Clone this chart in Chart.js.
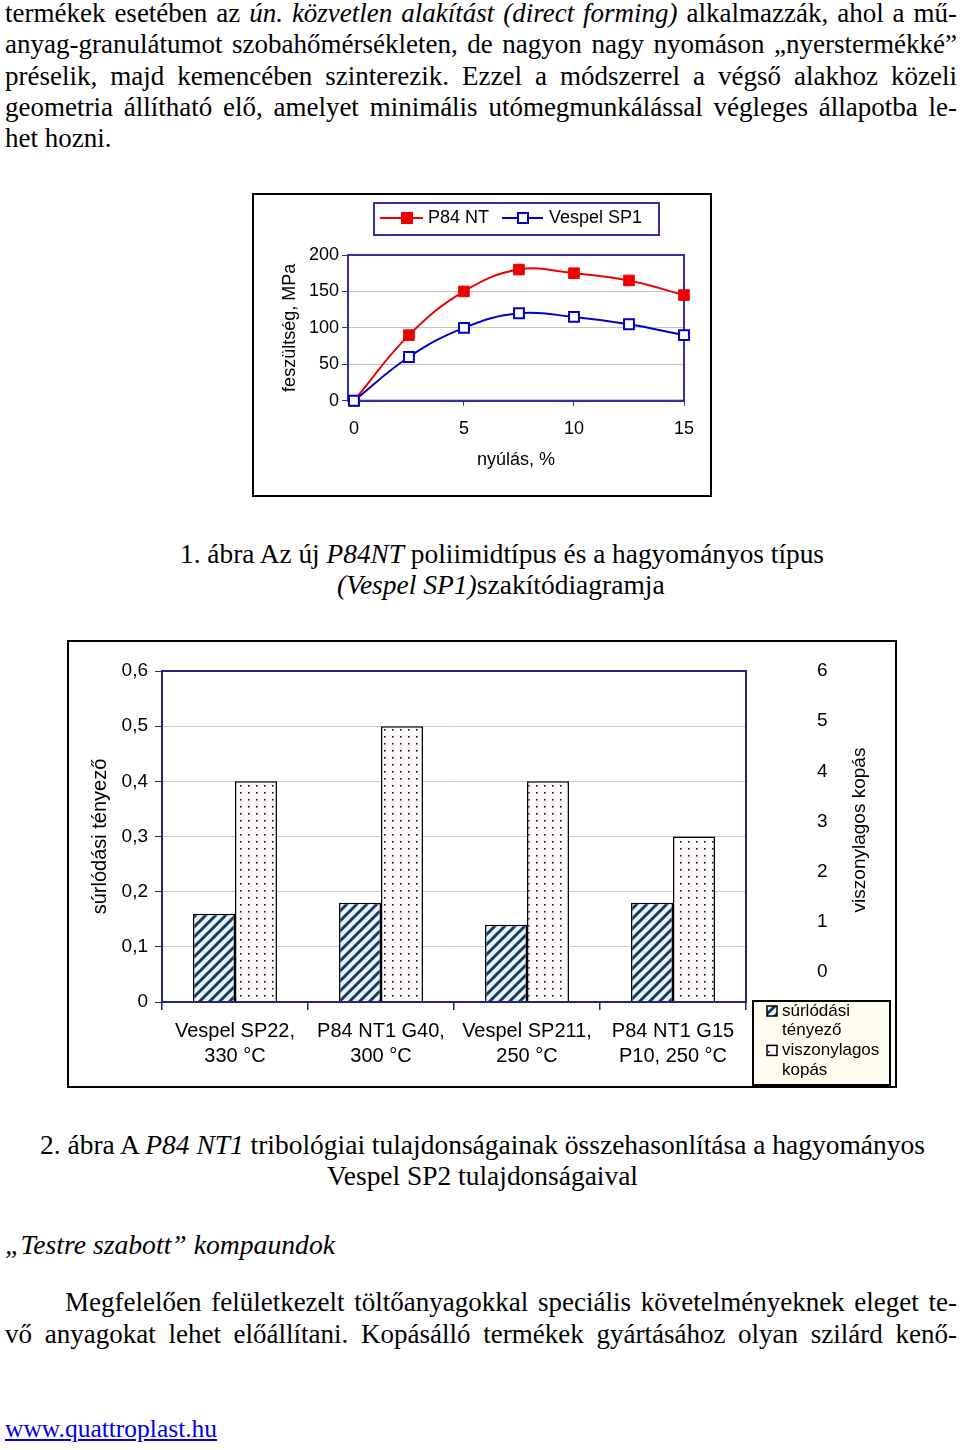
<!DOCTYPE html>
<html lang="hu">
<head>
<meta charset="utf-8">
<script src="https://cdn.jsdelivr.net/npm/chart.js@4.4.1/dist/chart.umd.min.js"></script>
<style>
  body { margin: 0; width: 960px; height: 1450px; background: #fff; position: relative; overflow: hidden;
         font-family: 'Liberation Serif', 'Times New Roman', serif; color: #000; }
  .ln { position: absolute; font-size: 27px; line-height: 31px; white-space: nowrap; transform-origin: left center; }
  .frame { position: absolute; box-sizing: border-box; border: 2px solid #000; background: #fff; }
  .frame canvas { display: block; }
  a.ln { color: #0000ee; text-decoration: underline; font-size: 25px; }
</style>
</head>
<body>

<div class="ln" data-mode="just" data-left="5" data-w="952" data-y="13">termékek esetében az <i>ún. közvetlen alakítást (direct forming)</i> alkalmazzák, ahol a mű-</div>
<div class="ln" data-mode="just" data-left="5" data-w="952" data-y="44">anyag-granulátumot szobahőmérsékleten, de nagyon nagy nyomáson „nyerstermékké”</div>
<div class="ln" data-mode="just" data-left="5" data-w="952" data-y="76">préselik, majd kemencében szinterezik. Ezzel a módszerrel a végső alakhoz közeli</div>
<div class="ln" data-mode="just" data-left="5" data-w="952" data-y="107">geometria állítható elő, amelyet minimális utómegmunkálással végleges állapotba le-</div>
<div class="ln" data-mode="plain" data-left="5" data-y="138">het hozni.</div>

<div class="frame" style="left:252px; top:193px; width:460px; height:304px;">
  <canvas id="tensile" width="456" height="300"></canvas>
</div>

<div class="ln" data-mode="center" data-c="502" data-w="644" data-y="554">1. ábra Az új <i>P84NT</i> poliimidtípus és a hagyományos típus</div>
<div class="ln" data-mode="center" data-c="501" data-w="328" data-y="585"><i>(Vespel SP1)</i>szakítódiagramja</div>

<div class="frame" style="left:67px; top:640px; width:830px; height:448px;">
  <canvas id="tribo" width="826" height="444"></canvas>
</div>

<div class="ln" data-mode="center" data-c="482" data-w="885" data-y="1145">2. ábra A <i>P84 NT1</i> tribológiai tulajdonságainak összehasonlítása a hagyományos</div>
<div class="ln" data-mode="center" data-c="482" data-w="311" data-y="1176">Vespel SP2 tulajdonságaival</div>

<div class="ln" data-mode="fit" data-left="5" data-w="330" data-y="1245"><i>„Testre szabott” kompaundok</i></div>
<div class="ln" data-mode="just" data-left="65" data-w="892" data-y="1302">Megfelelően felületkezelt töltőanyagokkal speciális követelményeknek eleget te-</div>
<div class="ln" data-mode="just" data-left="5" data-w="952" data-y="1334">vő anyagokat lehet előállítani. Kopásálló termékek gyártásához olyan szilárd kenő-</div>

<a class="ln" data-mode="fit" data-left="5" data-w="212" data-y="1428" href="#">www.quattroplast.hu</a>

<script>
// ---- 1. ábra: szakítódiagram ----
const strainPct = [0, 2.5, 5, 7.5, 10, 12.5, 15];
const p84nt = [0, 90, 150, 180, 175, 165, 145];
const vespelSp1 = [0, 60, 100, 120, 115, 105, 90];
const strainTicks = [0, 5, 10, 15];
const stressTicks = [0, 50, 100, 150, 200];

// ---- 2. ábra: tribológiai összehasonlítás ----
const materials = [
  ['Vespel SP22,', '330 °C'],
  ['P84 NT1 G40,', '300 °C'],
  ['Vespel SP211,', '250 °C'],
  ['P84 NT1 G15', 'P10, 250 °C']
];
const frictionCoef = [0.16, 0.18, 0.14, 0.18];
const relativeWear = [4, 5, 4, 3];
const frictionTicks = [0, 0.1, 0.2, 0.3, 0.4, 0.5, 0.6];
const wearTicks = [0, 1, 2, 3, 4, 5, 6];

// text lines: justify / fit
document.querySelectorAll('.ln').forEach(el => {
  const d = el.dataset;
  el.style.top = (d.y - 15.5) + 'px';
  const n = el.offsetWidth;
  if (d.mode === 'just') {
    el.style.left = d.left + 'px';
    if (n <= +d.w) {
      el.style.whiteSpace = 'normal';
      el.style.width = d.w + 'px';
      el.style.textAlign = 'justify';
      el.style.textAlignLast = 'justify';
    } else {
      el.style.transform = 'scaleX(' + (d.w / n) + ')';
    }
  } else if (d.mode === 'center') {
    el.style.left = (d.c - d.w / 2) + 'px';
    el.style.transform = 'scaleX(' + (d.w / n) + ')';
  } else if (d.mode === 'fit') {
    el.style.left = d.left + 'px';
    el.style.transform = 'scaleX(' + (d.w / n) + ')';
  } else {
    el.style.left = d.left + 'px';
  }
});

Chart.defaults.font.family = "'Liberation Sans', Arial, sans-serif";
Chart.defaults.color = '#000';
Chart.defaults.animation = false;

const red = '#ee0000';
const blue = '#0000cc';
const frameBlue = '#3030a8';
const navy = '#24247a';

const plotFrame = {
  id: 'plotFrame',
  beforeDatasetsDraw(chart, args, opts) {
    if (opts.after) return;
    drawFrame(chart, opts);
  },
  afterDatasetsDraw(chart, args, opts) {
    if (opts.after) drawFrame(chart, opts);
  }
};
function drawFrame(chart, opts) {
  const a = chart.chartArea, ctx = chart.ctx;
  ctx.save();
  ctx.strokeStyle = opts.color;
  ctx.lineWidth = 2;
  ctx.strokeRect(a.left, a.top, a.right - a.left, a.bottom - a.top);
  ctx.restore();
}

// legend of chart 1, boxed, at the top
const tensileLegend = {
  id: 'tensileLegend',
  afterDraw(chart) {
    const ctx = chart.ctx;
    const slots = [{ x0: 126, x1: 169, mx: 153, tx: 174 }, { x0: 248, x1: 289, mx: 269, tx: 295 }];
    const cy = 23;
    ctx.save();
    ctx.strokeStyle = frameBlue;
    ctx.lineWidth = 2;
    ctx.strokeRect(120, 8, 285, 32);
    chart.data.datasets.forEach((ds, i) => {
      const s = slots[i];
      ctx.strokeStyle = ds.borderColor;
      ctx.lineWidth = 2;
      ctx.beginPath(); ctx.moveTo(s.x0, cy); ctx.lineTo(s.x1, cy); ctx.stroke();
      ctx.fillStyle = ds.pointBackgroundColor;
      ctx.fillRect(s.mx - 5, cy - 5, 10, 10);
      ctx.strokeRect(s.mx - 5, cy - 5, 10, 10);
      ctx.fillStyle = '#000';
      ctx.font = "18px 'Liberation Sans', Arial, sans-serif";
      ctx.textBaseline = 'middle';
      ctx.fillText(ds.label, s.tx, cy);
    });
    ctx.restore();
  }
};

new Chart(document.getElementById('tensile'), {
  type: 'line',
  data: {
    datasets: [
      {
        label: 'P84 NT',
        data: strainPct.map((x, i) => ({ x: x, y: p84nt[i] })),
        borderColor: red, backgroundColor: red,
        pointBackgroundColor: red, pointBorderColor: red,
        pointStyle: 'rect', pointRadius: 7.5, borderWidth: 2, pointBorderWidth: 1,
        tension: 0.4, clip: false, order: 1
      },
      {
        label: 'Vespel SP1',
        data: strainPct.map((x, i) => ({ x: x, y: vespelSp1[i] })),
        borderColor: blue, backgroundColor: '#fff',
        pointBackgroundColor: '#fff', pointBorderColor: blue,
        pointStyle: 'rect', pointRadius: 7, borderWidth: 2, pointBorderWidth: 2,
        tension: 0.4, clip: false, order: 0
      }
    ]
  },
  options: {
    responsive: false,
    layout: { padding: { top: 60, right: 26, bottom: 0, left: 0 } },
    plugins: {
      legend: { display: false },
      tooltip: { enabled: false },
      plotFrame: { color: frameBlue }
    },
    scales: {
      x: {
        type: 'linear', min: -0.27, max: 15,
        afterBuildTicks: s => { s.ticks = strainTicks.map(v => ({ value: v })); },
        afterFit: s => { s.height = 94.3; },
        ticks: { font: { size: 18 }, padding: 13, maxRotation: 0 },
        grid: { drawOnChartArea: false, tickLength: 5, tickColor: frameBlue },
        border: { color: frameBlue, width: 2 },
        title: { display: true, text: 'nyúlás, %', font: { size: 18 }, padding: { top: 0, bottom: 24 } }
      },
      y: {
        min: 0, max: 200,
        afterBuildTicks: s => { s.ticks = stressTicks.map(v => ({ value: v })); },
        afterFit: s => { s.width = 94; },
        ticks: { font: { size: 18 }, padding: 3 },
        grid: { color: '#c4c4c4', tickLength: 6, tickColor: frameBlue },
        border: { color: frameBlue, width: 2 },
        title: { display: true, text: 'feszültség, MPa', font: { size: 18 }, padding: { top: 25, bottom: 0 } }
      }
    }
  },
  plugins: [plotFrame, tensileLegend]
});

// patterns for chart 2
function hatchPattern() {
  const c = document.createElement('canvas');
  c.width = 10; c.height = 10;
  const g = c.getContext('2d');
  g.fillStyle = '#e9f4fb';
  g.fillRect(0, 0, 10, 10);
  g.strokeStyle = '#173a5e';
  g.lineWidth = 3;
  g.beginPath();
  g.moveTo(-5, 5); g.lineTo(5, -5);
  g.moveTo(0, 10); g.lineTo(10, 0);
  g.moveTo(5, 15); g.lineTo(15, 5);
  g.stroke();
  return g.createPattern(c, 'repeat');
}
function dotPattern() {
  const c = document.createElement('canvas');
  c.width = 8; c.height = 7;
  const g = c.getContext('2d');
  g.fillStyle = '#fdf9fc';
  g.fillRect(0, 0, 8, 7);
  g.fillStyle = '#111';
  g.fillRect(3, 3, 1.6, 1.6);
  return g.createPattern(c, 'repeat');
}
const hatch = hatchPattern();
const dots = dotPattern();

const triboExtras = {
  id: 'triboExtras',
  afterDraw(chart) {
    const ctx = chart.ctx;
    ctx.save();
    // right axis title, reading upwards
    ctx.translate(791, 188);
    ctx.rotate(-Math.PI / 2);
    ctx.font = "19px 'Liberation Sans', Arial, sans-serif";
    ctx.fillStyle = '#000';
    ctx.textAlign = 'center';
    ctx.textBaseline = 'middle';
    ctx.fillText('viszonylagos kopás', 0, 0);
    ctx.restore();

    // legend box
    ctx.save();
    ctx.fillStyle = '#fffdf0';
    ctx.fillRect(684, 359, 137, 84);
    ctx.strokeStyle = '#000';
    ctx.lineWidth = 2;
    ctx.strokeRect(684, 359, 137, 84);
    ctx.font = "17px 'Liberation Sans', Arial, sans-serif";
    ctx.textBaseline = 'middle';
    let y = 369;
    chart.data.datasets.forEach(ds => {
      ctx.fillStyle = ds.backgroundColor;
      ctx.fillRect(698, y - 5, 10, 10);
      ctx.lineWidth = 1.5;
      ctx.strokeRect(698, y - 5, 10, 10);
      ctx.fillStyle = '#000';
      ds.label.split(' ').forEach(word => {
        ctx.fillText(word, 713, y);
        y += 19.7;
      });
    });
    ctx.restore();
  }
};

new Chart(document.getElementById('tribo'), {
  type: 'bar',
  data: {
    labels: materials,
    datasets: [
      {
        label: 'súrlódási tényező',
        data: frictionCoef,
        yAxisID: 'y',
        backgroundColor: hatch, borderColor: '#000', borderWidth: 1.5,
        categoryPercentage: 0.575, barPercentage: 1
      },
      {
        label: 'viszonylagos kopás',
        data: relativeWear,
        yAxisID: 'y1',
        backgroundColor: dots, borderColor: '#000', borderWidth: 1.5,
        categoryPercentage: 0.575, barPercentage: 1
      }
    ]
  },
  options: {
    responsive: false,
    layout: { padding: { top: 29, right: 0, bottom: 0, left: 0 } },
    plugins: {
      legend: { display: false },
      tooltip: { enabled: false },
      plotFrame: { color: navy, after: true }
    },
    scales: {
      x: {
        afterFit: s => { s.height = 84; },
        ticks: { font: { size: 20, lineHeight: 1.25 }, padding: 9, maxRotation: 0, autoSkip: false },
        grid: { offset: true, drawOnChartArea: false, tickLength: 8, tickColor: navy, lineWidth: 1.5 },
        border: { color: navy, width: 2 }
      },
      y: {
        min: 0, max: 0.6,
        afterBuildTicks: s => { s.ticks = frictionTicks.map(v => ({ value: v })); },
        afterFit: s => { s.width = 93; },
        ticks: {
          font: { size: 19 }, padding: 7,
          callback: v => v === 0 ? '0' : v.toFixed(1).replace('.', ',')
        },
        grid: { color: '#cacaca', tickLength: 7, tickColor: navy },
        border: { color: navy, width: 2 },
        title: { display: true, text: 'súrlódási tényező', font: { size: 20 }, padding: { top: 19, bottom: 0 } }
      },
      y1: {
        display: false, position: 'right', min: 0, max: 6
      },
      y2: {
        position: 'right', min: -0.6, max: 6,
        afterBuildTicks: s => { s.ticks = wearTicks.map(v => ({ value: v })); },
        afterFit: s => { s.width = 149; s.paddingTop = 12; s.paddingBottom = 12; },
        ticks: { font: { size: 19 }, padding: 63, crossAlign: 'center' },
        grid: { display: false },
        border: { display: false }
      }
    }
  },
  plugins: [plotFrame, triboExtras]
});
</script>
</body>
</html>
